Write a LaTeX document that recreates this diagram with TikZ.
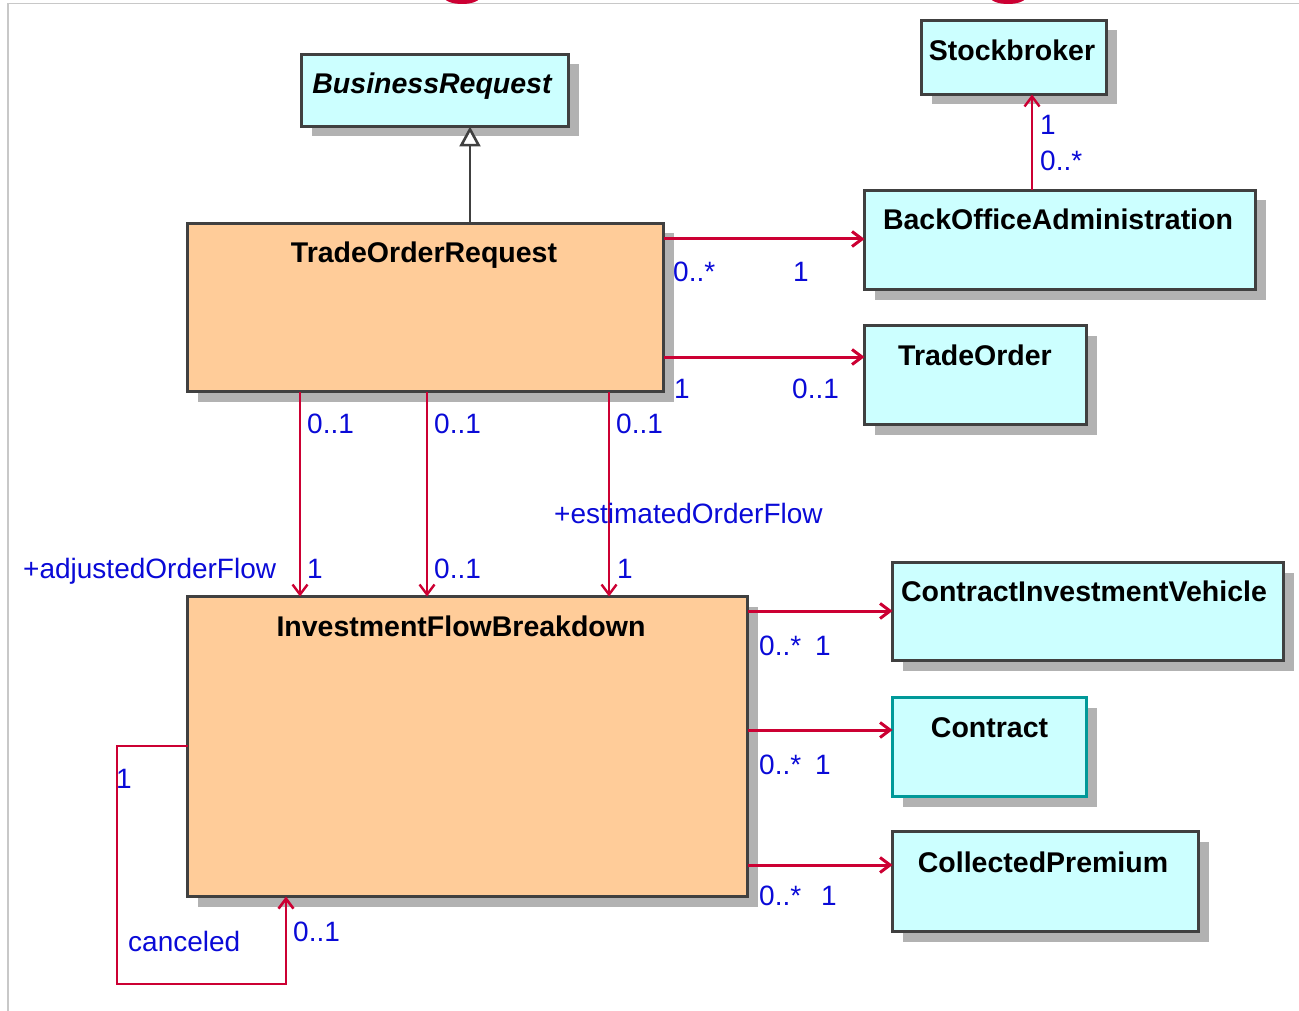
\documentclass[tikz,border=0pt]{standalone}
\usepackage{fontspec}
\setmainfont{Liberation Sans}
\usetikzlibrary{arrows.meta,shadows,calc}
\definecolor{redC}{RGB}{204,0,51}
\definecolor{blueC}{RGB}{10,10,215}
\definecolor{cyanC}{RGB}{204,255,255}
\definecolor{orangeC}{RGB}{255,204,153}
\definecolor{borderC}{RGB}{64,64,64}
\definecolor{tealC}{RGB}{0,153,153}
\definecolor{shadowC}{RGB}{178,178,178}
\definecolor{frameC}{RGB}{200,200,200}
\begin{document}
\begin{tikzpicture}[x=1pt,y=-1pt,
  cls/.style={draw=borderC, line width=3.4pt, inner sep=0pt, outer sep=0pt,
    drop shadow={shadow xshift=10pt, shadow yshift=-10pt, opacity=1, fill=shadowC}},
  cyanbox/.style={cls, fill=cyanC},
  orangebox/.style={cls, fill=orangeC},
  cname/.style={font=\fontsize{28.5}{32}\selectfont\bfseries, anchor=base, inner sep=0pt, text=black},
  mult/.style={font=\fontsize{28}{32}\selectfont, text=blueC, anchor=base west, inner sep=0pt},
  assoc/.style={draw=redC, line width=3pt, -{Straight Barb[length=10pt,width=15pt]}},
  vassoc/.style={assoc, line width=2.4pt},
  gen/.style={draw=borderC, line width=2.6pt, -{Triangle[open, length=20pt, width=21pt, fill=white]}}
]
\useasboundingbox (0,0) rectangle (1299,1011);
% page frame and cut-off marks
\draw[frameC, line width=1.5pt] (8,1011) -- (8,3.5) -- (1299,3.5);
\fill[redC] (462,-3) ellipse [x radius=18pt, y radius=7pt];
\fill[redC] (1008,-3) ellipse [x radius=18pt, y radius=7pt];

% classes
\node[cyanbox, minimum width=267pt, minimum height=72pt] (br) at (435,90.5) {};
\node[cname, font=\fontsize{28.5}{32}\selectfont\bfseries\itshape] (brt) at (432,94) {BusinessRequest};

\node[cyanbox, minimum width=185pt, minimum height=74pt] (sb) at (1014,57.5) {};
\node[cname] (sbt) at (1012,61) {Stockbroker};

\node[cyanbox, minimum width=391pt, minimum height=99pt] (boa) at (1060,240) {};
\node[cname] (boat) at (1058,230) {BackOfficeAdministration};

\node[orangebox, minimum width=476pt, minimum height=168pt] (tor) at (425.5,307.5) {};
\node[cname] (tort) at (424,263) {TradeOrderRequest};

\node[cyanbox, minimum width=222pt, minimum height=99pt] (to) at (975.5,375) {};
\node[cname] (tot) at (975,365) {TradeOrder};

\node[orangebox, minimum width=560pt, minimum height=300pt] (ifb) at (467.5,746.5) {};
\node[cname] (ifbt) at (461,636) {InvestmentFlowBreakdown};

\node[cyanbox, minimum width=391pt, minimum height=98pt] (civ) at (1088,611.5) {};
\node[cname] (civt) at (1084,601) {ContractInvestmentVehicle};

\node[cyanbox, draw=tealC, minimum width=194pt, minimum height=99pt] (con) at (989.5,747) {};
\node[cname] (cont) at (989.5,737) {Contract};

\node[cyanbox, minimum width=306pt, minimum height=100pt] (cp) at (1045.5,881.5) {};
\node[cname] (cpt) at (1043,872) {CollectedPremium};

% helper coordinates
\coordinate (g1) at (470,0);
\coordinate (s1) at (1032,0);
\coordinate (h1) at (0,239);
\coordinate (h2) at (0,357);
\coordinate (v1) at (300,0);
\coordinate (v2) at (427,0);
\coordinate (v3) at (609,0);
\coordinate (h3) at (0,611);
\coordinate (h4) at (0,730);
\coordinate (h5) at (0,865);
\coordinate (l1) at (0,746);
\coordinate (l2) at (117,984);
\coordinate (l3) at (286,0);

% connectors
\draw[gen] (tor.north -| g1) -- (br.south -| g1);
\draw[assoc] (tor.east |- h1) -- (boa.west |- h1);
\draw[assoc] (tor.east |- h2) -- (to.west |- h2);
\draw[vassoc] (boa.north -| s1) -- (sb.south -| s1);
\draw[vassoc] (tor.south -| v1) -- (ifb.north -| v1);
\draw[vassoc] (tor.south -| v2) -- (ifb.north -| v2);
\draw[vassoc] (tor.south -| v3) -- (ifb.north -| v3);
\draw[assoc] (ifb.east |- h3) -- (civ.west |- h3);
\draw[assoc] (ifb.east |- h4) -- (con.west |- h4);
\draw[assoc] (ifb.east |- h5) -- (cp.west |- h5);
\draw[assoc, line width=2.6pt] (ifb.west |- l1) -| (l2) -| (ifb.south -| l3);

% multiplicities and roles
\node[mult] (m1) at (673,281) {0..*};
\node[mult] (m2) at (793,281) {1};
\node[mult] (m3) at (674,398) {1};
\node[mult] (m4) at (792,398) {0..1};
\node[mult] (m5) at (1040,135) {1};
\node[mult] (m6) at (1040,171) {0..*};
\node[mult] (m7) at (307,433) {0..1};
\node[mult] (m8) at (434,433) {0..1};
\node[mult] (m9) at (616,433) {0..1};
\node[mult] (r1) at (554,523) {+estimatedOrderFlow};
\node[mult] (r2) at (23,578) {+adjustedOrderFlow};
\node[mult] (m10) at (307,578) {1};
\node[mult] (m11) at (434,578) {0..1};
\node[mult] (m12) at (617,578) {1};
\node[mult] (m13) at (759,655) {0..*};
\node[mult] (m14) at (815,655) {1};
\node[mult] (m15) at (759,774) {0..*};
\node[mult] (m16) at (815,774) {1};
\node[mult] (m17) at (759,905) {0..*};
\node[mult] (m18) at (821,905) {1};
\node[mult] (m19) at (116,788) {1};
\node[mult] (r3) at (128,951) {canceled};
\node[mult] (m20) at (293,941) {0..1};
\end{tikzpicture}
\end{document}
